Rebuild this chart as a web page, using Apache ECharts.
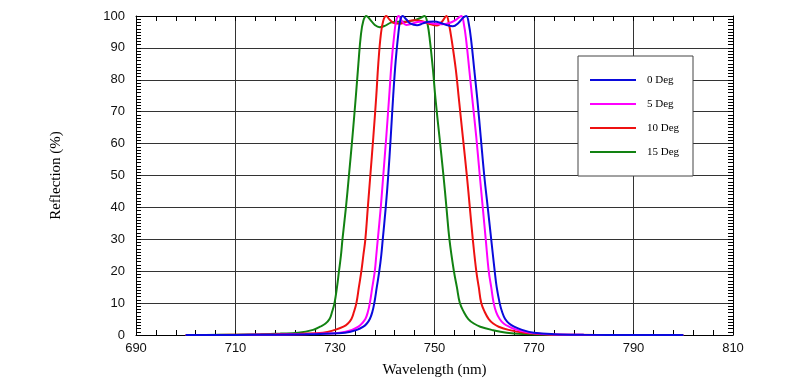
<!DOCTYPE html>
<html><head><meta charset="utf-8">
<script src="https://cdn.jsdelivr.net/npm/echarts@6/dist/echarts.min.js"></script>
<style>html,body{margin:0;padding:0;background:#fff}#c{width:806px;height:389px}</style>
</head><body><div id="c"></div>
<script>
const seriesNames = ['0 Deg', '5 Deg', '10 Deg', '15 Deg'];
const xTicks = [690, 710, 730, 750, 770, 790, 810];
const yTicks = [0, 10, 20, 30, 40, 50, 60, 70, 80, 90, 100];

const deg0 = [[700,0],[710,0.02],[718,0.08],[724,0.2],[728,0.4],[732,0.7],[734.4,1.6],[735.7,2.6],[736.4,3.6],[737,5],[737.5,7.2],[737.9,10],[738.4,15],[738.9,20],[739.3,25],[739.6,30],[740.2,40],[740.7,50],[741.2,62],[741.7,75],[742.2,86],[742.7,94],[743.1,98.5],[743.6,100],[744.3,99],[745.2,97.6],[746.5,97.1],[747.7,97.7],[748.8,98.2],[750,98.3],[751.3,97.8],[752.6,97.1],[753.7,96.8],[754.8,97.8],[755.8,99.5],[756.4,100],[756.9,97.5],[757.4,92],[758,83],[758.6,74],[759.3,62],[760,50],[760.7,40],[761.4,30],[762.1,20],[762.5,15],[763.1,10],[763.6,7.2],[764.2,5],[765,3.6],[766,2.6],[767.6,1.6],[770,0.7],[774,0.25],[780,0.08],[790,0.02],[800,0]];
const deg5 = [[700,0],[710,0.02],[718,0.1],[724,0.25],[728,0.45],[731,0.7],[733.4,1.6],[734.7,2.6],[735.4,3.6],[736.1,5],[736.6,7.2],[737,10],[737.5,15],[738,20],[738.3,25],[738.6,30],[739.2,40],[739.7,50],[740.3,62],[740.9,75],[741.4,86],[741.9,94],[742.3,98.5],[742.8,100],[743.5,98.3],[744.3,97.2],[745.5,97.6],[747,98.2],[748.5,98],[750,97.6],[751.5,97.4],[753,97.8],[754.3,98.8],[755.4,100],[755.9,97.5],[756.4,92],[757,83],[757.6,74],[758.4,62],[759.1,50],[759.7,40],[760.3,30],[760.9,20],[761.4,15],[761.9,10],[762.4,7.2],[763.1,5],[763.9,3.6],[765,2.6],[766.6,1.6],[769.2,0.7],[773,0.25],[780,0.07],[790,0.02],[800,0]];
const deg10 = [[700,0],[706,0.02],[712,0.08],[718,0.2],[723,0.4],[727.6,0.7],[730,1.6],[731.7,2.6],[732.6,3.6],[733.3,5],[733.8,7.2],[734.3,10],[734.8,15],[735.3,20],[735.7,25],[736.1,30],[736.6,40],[737.1,50],[737.7,62],[738.3,75],[738.7,85],[739.2,94],[739.7,98.5],[740.3,100],[741,98.8],[742,97.7],[743,97.6],[744.5,98.3],[746,98.7],[747.5,98.4],[749,97.5],[750.5,97],[751.5,98.2],[752.4,100],[752.9,97.5],[753.5,92],[754.3,83],[754.9,74],[755.7,62],[756.5,50],[757.1,40],[757.7,30],[758.4,20],[758.9,15],[759.4,10],[760.1,7.2],[760.9,5],[761.8,3.6],[762.9,2.6],[764.9,1.6],[768,0.7],[772,0.25],[778,0.07],[788,0.02],[800,0]];
const deg15 = [[700,0],[704,0.03],[710,0.1],[715,0.25],[719,0.45],[722.6,0.7],[725.6,1.6],[727,2.6],[728.1,3.6],[728.9,5],[729.4,7.2],[729.9,10],[730.4,15],[730.8,20],[731.2,25],[731.5,30],[732.2,40],[732.8,50],[733.5,62],[734.2,75],[734.7,85],[735.2,94],[735.7,98.5],[736.3,100],[737.1,98.8],[738,97.2],[739,96.5],[740,96.9],[741.4,98],[743,98.2],[744.5,98.3],[746,98.7],[747.2,99.4],[748,100],[748.6,97.5],[749.1,92],[749.7,83],[750.2,74],[751,62],[751.8,50],[752.4,40],[753,30],[753.9,20],[754.5,15],[755.1,10],[755.9,7.2],[756.8,5],[757.9,3.6],[759.2,2.6],[761.5,1.6],[764.5,0.7],[768,0.3],[774,0.08],[785,0.02],[800,0]];

const seriesData = [deg0, deg5, deg10, deg15];
const colors = ['#0a0adc', '#ff00ff', '#ee1111', '#128212'];
const zs = [5, 4, 3, 2];

const chart = echarts.init(document.getElementById('c'), null, {renderer: 'canvas'});
const gridColor = '#333';
const xMin = xTicks[0], xMax = xTicks[xTicks.length - 1];
const xInt = xTicks[1] - xTicks[0];
const yMin = yTicks[0], yMax = yTicks[yTicks.length - 1];
const yInt = yTicks[1] - yTicks[0];

function xAx(pos, show) {
  return {
    type: 'value', position: pos, min: xMin, max: xMax, interval: xInt,
    axisLine: {show: true, onZero: false, lineStyle: {color: '#000', width: 1}},
    axisTick: {show: true, inside: true, length: 5, lineStyle: {color: '#000', width: 1}},
    minorTick: {show: true, splitNumber: 5, length: 5, lineStyle: {color: '#000', width: 1}},
    axisLabel: {show: show, margin: 7, color: '#111', fontFamily: 'Liberation Sans, Arial, sans-serif', fontSize: 13},
    splitLine: {show: show, lineStyle: {color: gridColor, width: 1}},
    minorSplitLine: {show: false},
    name: show ? 'Wavelength (nm)' : '', nameLocation: 'middle', nameGap: 28,
    nameTextStyle: {fontFamily: 'Liberation Serif, Times New Roman, serif', fontSize: 15, color: '#000'}
  };
}
function yAx(pos, show) {
  return {
    type: 'value', position: pos, min: yMin, max: yMax, interval: yInt,
    axisLine: {show: true, onZero: false, lineStyle: {color: '#000', width: 1}},
    axisTick: {show: true, inside: true, length: 5, lineStyle: {color: '#000', width: 1}},
    minorTick: {show: true, splitNumber: 10, length: 5, lineStyle: {color: '#000', width: 1}},
    axisLabel: {show: show, margin: 11, color: '#111', fontFamily: 'Liberation Sans, Arial, sans-serif', fontSize: 13},
    splitLine: {show: show, lineStyle: {color: gridColor, width: 1}},
    name: show ? 'Reflection (%)' : '', nameLocation: 'middle', nameGap: 72,
    nameTextStyle: {fontFamily: 'Liberation Serif, Times New Roman, serif', fontSize: 15, color: '#000'}
  };
}

chart.setOption({
  animation: false,
  backgroundColor: '#fff',
  grid: {left: 136, right: 73, top: 16, bottom: 54, containLabel: false},
  xAxis: [xAx('bottom', true), xAx('top', false)],
  yAxis: [yAx('left', true), yAx('right', false)],
  legend: {
    show: true, orient: 'vertical', left: 578, top: 56,
    data: seriesNames, icon: 'rect',
    backgroundColor: '#fff', borderColor: '#444', borderWidth: 1,
    padding: [17, 6, 17, 12], itemGap: 10, itemWidth: 46, itemHeight: 2,
    textStyle: {fontFamily: 'Liberation Serif, Times New Roman, serif', fontSize: 11, color: '#000', padding: [0, 0, 0, 6], width: 40, lineHeight: 14},
    selectedMode: false
  },
  series: seriesNames.map((n, i) => ({
    name: n, type: 'line', data: seriesData[i], xAxisIndex: 0, yAxisIndex: 0,
    smooth: 0.4, symbol: 'none', z: zs[i],
    lineStyle: {color: colors[i], width: 2}, itemStyle: {color: colors[i]}
  }))
});
</script></body></html>
